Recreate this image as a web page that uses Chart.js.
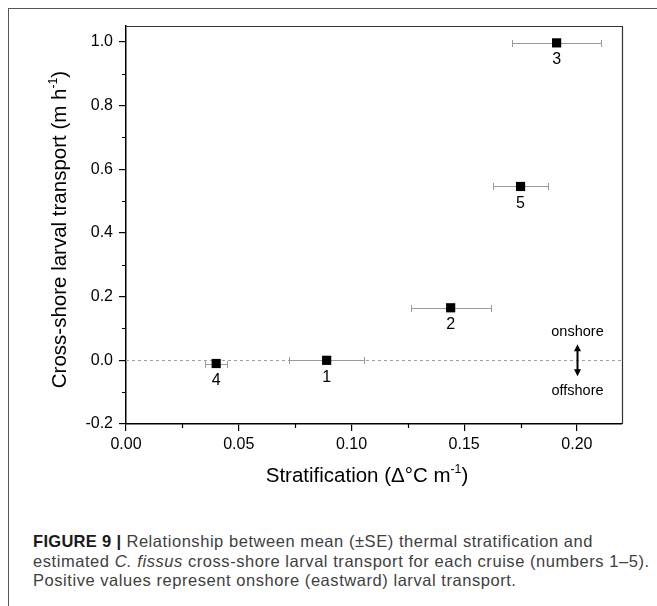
<!DOCTYPE html>
<html>
<head>
<meta charset="utf-8">
<script src="https://cdn.jsdelivr.net/npm/chart.js@4.4.0/dist/chart.umd.min.js"></script>
<style>
  body { margin: 0; background: #fff; width: 657px; height: 606px; overflow: hidden; }
  #frame { position: absolute; left: 8px; top: 8px; width: 660px; height: 620px;
           border-left: 1px solid #555; border-top: 1px solid #555; }
  #chart { position: absolute; left: 0; top: 0; }
  #caption { position: absolute; left: 33px; top: 532px; width: 630px;
             font-family: "Liberation Sans", Arial, sans-serif; font-size: 16.5px;
             letter-spacing: 0.55px; line-height: 19.7px; color: #404040; white-space: nowrap; }
  #caption b { color: #1a1a1a; letter-spacing: 0.3px; }
</style>
</head>
<body>
<div id="frame"></div>
<canvas id="chart" width="657" height="500"></canvas>
<div id="caption">
  <b>FIGURE 9 |</b> Relationship between mean (±SE) thermal stratification and<br>
  estimated <i>C. fissus</i> cross-shore larval transport for each cruise (numbers 1–5).<br>
  Positive values represent onshore (eastward) larval transport.
</div>
<script>
// cruise numbers and values
const cruises = ["1", "2", "3", "4", "5"];
const stratMean = [0.089, 0.144, 0.191, 0.040, 0.175];
const stratSE = [0.0167, 0.0178, 0.0197, 0.0049, 0.0121];
const transport = [0.0, 0.165, 0.997, -0.010, 0.546];

const xTickValues = [0, 0.05, 0.1, 0.15, 0.2];
const yTickValues = [-0.2, 0, 0.2, 0.4, 0.6, 0.8, 1.0];

const FONT = "Liberation Sans, Arial, sans-serif";

// draws text with superscript pieces, centred on x
function drawParts(ctx, parts, x, y, size) {
  const supSize = size * 0.6;
  let total = 0;
  parts.forEach(function (p) {
    ctx.font = (p[1] ? supSize : size) + "px " + FONT;
    total += ctx.measureText(p[0]).width;
  });
  let cx = x - total / 2;
  ctx.textAlign = "left";
  ctx.textBaseline = "alphabetic";
  parts.forEach(function (p) {
    ctx.font = (p[1] ? supSize : size) + "px " + FONT;
    ctx.fillText(p[0], cx, p[1] ? y - size * 0.42 : y);
    cx += ctx.measureText(p[0]).width;
  });
}

const extras = {
  id: "extras",
  beforeDatasetsDraw(chart) {
    const ctx = chart.ctx;
    const a = chart.chartArea;
    const x = chart.scales.x, y = chart.scales.y;
    ctx.save();
    // zero line
    const y0 = Math.round(y.getPixelForValue(0)) + 0.5;
    ctx.strokeStyle = "#a0a0a0";
    ctx.lineWidth = 1;
    ctx.setLineDash([3, 3]);
    ctx.beginPath();
    ctx.moveTo(a.left, y0);
    ctx.lineTo(a.right, y0);
    ctx.stroke();
    ctx.setLineDash([]);

    // horizontal error bars
    ctx.strokeStyle = "#9a9a9a";
    for (let i = 0; i < stratMean.length; i++) {
      const py = Math.round(y.getPixelForValue(transport[i])) + 0.5;
      const x1 = Math.round(x.getPixelForValue(stratMean[i] - stratSE[i])) + 0.5;
      const x2 = Math.round(x.getPixelForValue(stratMean[i] + stratSE[i])) + 0.5;
      ctx.beginPath();
      ctx.moveTo(x1, py); ctx.lineTo(x2, py);
      ctx.moveTo(x1, py - 3.5); ctx.lineTo(x1, py + 3.5);
      ctx.moveTo(x2, py - 3.5); ctx.lineTo(x2, py + 3.5);
      ctx.stroke();
    }
    ctx.restore();
  },
  afterDraw(chart) {
    const ctx = chart.ctx;
    const a = chart.chartArea;
    const x = chart.scales.x, y = chart.scales.y;
    ctx.save();

    // top and right of the box
    ctx.strokeStyle = "#333";
    ctx.lineWidth = 1.2;
    ctx.beginPath();
    ctx.moveTo(a.left, a.top + 0.5);
    ctx.lineTo(a.right + 0.5, a.top + 0.5);
    ctx.lineTo(a.right + 0.5, a.bottom);
    ctx.stroke();

    // minor ticks
    ctx.strokeStyle = "#000";
    ctx.lineWidth = 1.2;
    ctx.beginPath();
    for (let i = 0; i < yTickValues.length - 1; i++) {
      const py = Math.round(y.getPixelForValue((yTickValues[i] + yTickValues[i + 1]) / 2)) + 0.5;
      ctx.moveTo(a.left - 4, py); ctx.lineTo(a.left, py);
    }
    for (let i = 0; i < xTickValues.length - 1; i++) {
      const px = Math.round(x.getPixelForValue((xTickValues[i] + xTickValues[i + 1]) / 2)) + 0.5;
      ctx.moveTo(px, a.bottom); ctx.lineTo(px, a.bottom + 4);
    }
    ctx.stroke();

    // cruise numbers under the markers
    ctx.fillStyle = "#000";
    ctx.font = "16px " + FONT;
    ctx.textAlign = "center";
    ctx.textBaseline = "middle";
    for (let i = 0; i < cruises.length; i++) {
      ctx.fillText(cruises[i], x.getPixelForValue(stratMean[i]), y.getPixelForValue(transport[i]) + 17);
    }

    // onshore / offshore note
    const ax = Math.round(x.getPixelForValue(0.2)) + 0.5;
    const zy = y.getPixelForValue(0);
    ctx.font = "14.5px " + FONT;
    ctx.fillText("onshore", ax, zy - 28);
    ctx.fillText("offshore", ax, zy + 31);
    ctx.strokeStyle = "#000";
    ctx.lineWidth = 2;
    ctx.beginPath();
    ctx.moveTo(ax, zy - 12); ctx.lineTo(ax, zy + 12);
    ctx.stroke();
    ctx.beginPath();
    ctx.moveTo(ax, zy - 16); ctx.lineTo(ax - 3.5, zy - 9); ctx.lineTo(ax + 3.5, zy - 9); ctx.closePath();
    ctx.moveTo(ax, zy + 16); ctx.lineTo(ax - 3.5, zy + 9); ctx.lineTo(ax + 3.5, zy + 9); ctx.closePath();
    ctx.fill();

    // axis titles
    ctx.fillStyle = "#000";
    drawParts(ctx, [["Stratification (\u0394\u00B0C m", false], ["-1", true], [")", false]],
      (a.left + a.right) / 2 - 7, 481.5, 20.5);
    ctx.translate(65.5, (a.top + a.bottom) / 2 + 4.5);
    ctx.rotate(-Math.PI / 2);
    drawParts(ctx, [["Cross-shore larval transport (m h", false], ["-1", true], [")", false]], 0, 0, 20.5);
    ctx.restore();
  }
};

const ctx = document.getElementById("chart").getContext("2d");
const myChart = new Chart(ctx, {
  type: "scatter",
  data: {
    datasets: [
      {
        data: stratMean.map(function (m, i) { return { x: m, y: transport[i] }; }),
        pointStyle: "rect",
        pointRadius: 6.5,
        pointHoverRadius: 6.5,
        backgroundColor: "#000",
        borderColor: "#000",
        borderWidth: 0,
      },
    ],
  },
  options: {
    responsive: false,
    animation: false,
    devicePixelRatio: 1,
    events: [],
    layout: { padding: { top: 26, right: 35, left: 0, bottom: 0 } },
    plugins: { legend: { display: false }, tooltip: { enabled: false } },
    scales: {
      x: {
        type: "linear",
        min: 0,
        max: 0.22,
        afterFit: function (s) { s.height = 76; },
        afterBuildTicks: function (s) { s.ticks = xTickValues.map(function (v) { return { value: v }; }); },
        grid: { drawOnChartArea: false, color: "#000", tickLength: 7, lineWidth: 1.2 },
        border: { color: "#000", width: 1.5 },
        ticks: {
          padding: 4, color: "#000", maxRotation: 0, autoSkip: false,
          font: { family: FONT, size: 16 },
          callback: function (v) { return v.toFixed(2); },
        },
      },
      y: {
        type: "linear",
        min: -0.2,
        max: 1.05,
        afterFit: function (s) { s.width = 126; },
        afterBuildTicks: function (s) { s.ticks = yTickValues.map(function (v) { return { value: v }; }); },
        grid: { drawOnChartArea: false, color: "#000", tickLength: 7, lineWidth: 1.2 },
        border: { color: "#000", width: 1.5 },
        ticks: {
          padding: 6, color: "#000", autoSkip: false,
          font: { family: FONT, size: 16 },
          callback: function (v) { return v.toFixed(1); },
        },
      },
    },
  },
  plugins: [extras],
});
</script>
</body>
</html>
